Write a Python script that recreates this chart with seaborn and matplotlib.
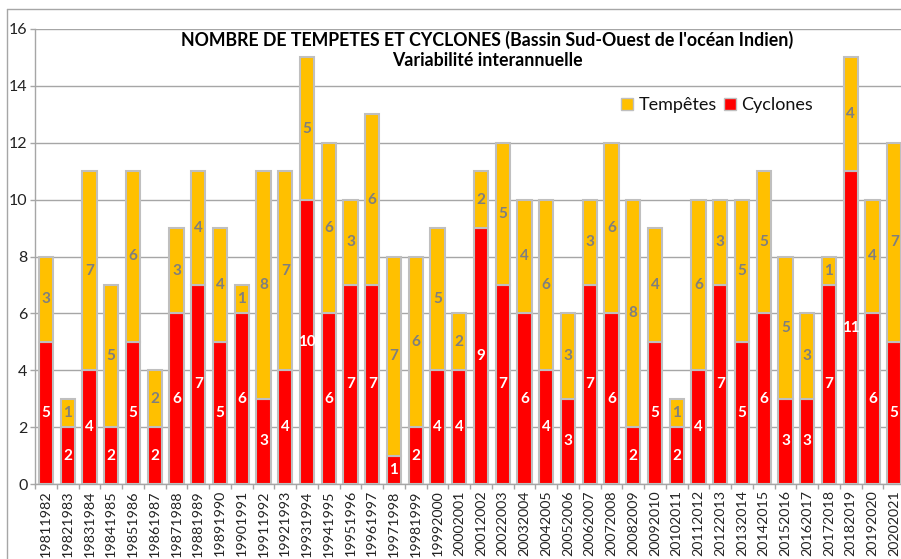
import matplotlib
matplotlib.use("Agg")
import matplotlib.pyplot as plt
import seaborn as sns
import pandas as pd
from matplotlib.patches import Patch
from matplotlib.lines import Line2D

seasons = ["19811982", "19821983", "19831984", "19841985", "19851986", "19861987",
           "19871988", "19881989", "19891990", "19901991", "19911992", "19921993",
           "19931994", "19941995", "19951996", "19961997", "19971998", "19981999",
           "19992000", "20002001", "20012002", "20022003", "20032004", "20042005",
           "20052006", "20062007", "20072008", "20082009", "20092010", "20102011",
           "20112012", "20122013", "20132014", "20142015", "20152016", "20162017",
           "20172018", "20182019", "20192020", "20202021"]
cyclones = [5, 2, 4, 2, 5, 2, 6, 7, 5, 6, 3, 4, 10, 6, 7, 7, 1, 2, 4, 4,
            9, 7, 6, 4, 3, 7, 6, 2, 5, 2, 4, 7, 5, 6, 3, 3, 7, 11, 6, 5]
tempetes = [3, 1, 7, 5, 6, 2, 3, 4, 4, 1, 8, 7, 5, 6, 3, 6, 7, 6, 5, 2,
            2, 5, 4, 6, 3, 3, 6, 8, 4, 1, 6, 3, 5, 5, 5, 3, 1, 4, 4, 7]
title = "NOMBRE DE TEMPETES ET CYCLONES (Bassin Sud-Ouest de l'océan Indien)\nVariabilité interannuelle"
yticks = [0, 2, 4, 6, 8, 10, 12, 14, 16]

df = pd.DataFrame({"saison": seasons, "Cyclones": cyclones, "Tempêtes": tempetes})

sns.set_theme(style="white")
plt.rcParams["font.family"] = ["Lato", "DejaVu Sans"]

W, H = 901, 559
fig = plt.figure(figsize=(W / 100, H / 100), dpi=100)
ax_left, ax_right, ax_top, ax_bot = 35.1, 905.1, 29, 484
ax = fig.add_axes([ax_left / W, 1 - ax_bot / H, (ax_right - ax_left) / W, (ax_bot - ax_top) / H])

RED = "#FF0000"
YEL = "#FFC000"
EDGE = "#BFBFBF"

sns.barplot(data=df, x="saison", y="Cyclones", color=RED, saturation=1, width=0.66,
            edgecolor=EDGE, linewidth=1.5, ax=ax, zorder=3)
sns.barplot(data=df, x="saison", y="Tempêtes", color=YEL, saturation=1, width=0.66,
            bottom=df["Cyclones"], edgecolor=EDGE, linewidth=1.5, ax=ax, zorder=3)

cont_c, cont_t = ax.containers[0], ax.containers[1]
ax.bar_label(cont_c, labels=[str(v) for v in cyclones], label_type="center",
             color="white", fontweight="bold", fontsize=11, zorder=4)
ax.bar_label(cont_t, labels=[str(v) for v in tempetes], label_type="center",
             color="#7F7F7F", fontweight="bold", fontsize=11, zorder=4)

ax.set_xlim(-0.5, len(seasons) - 0.5)
ax.set_ylim(0, 16)
ax.set_yticks(yticks)
ax.set_yticklabels([str(v) for v in yticks], fontsize=11.5, color="#222222")
ax.set_xticks(range(len(seasons)))
ax.set_xticklabels(seasons, rotation=90, fontsize=10.3, color="#222222")
ax.set_xlabel("")
ax.set_ylabel("")
ax.set_xticks([i - 0.5 for i in range(len(seasons) + 1)], minor=True)
ax.tick_params(axis="x", which="major", length=0, pad=4.5)
ax.tick_params(axis="x", which="minor", length=3.5, color="#A6A6A6", width=1, bottom=True)
ax.tick_params(axis="y", length=3.5, color="#A6A6A6", width=1, left=True, pad=2)

ax.yaxis.grid(True, color="#A6A6A6", linewidth=1)
ax.set_axisbelow(True)
for s in ["top", "right"]:
    ax.spines[s].set_visible(False)
for s in ["left", "bottom"]:
    ax.spines[s].set_color("#A6A6A6")
    ax.spines[s].set_linewidth(1)

fig.text(487 / W, 1 - 31 / H, title, ha="center", va="top", fontsize=12.8,
         fontweight="bold", color="black", linespacing=1.22)

handles = [Patch(facecolor=YEL, edgecolor=EDGE, label="Tempêtes"),
           Patch(facecolor=RED, edgecolor=EDGE, label="Cyclones")]
fig.legend(handles=handles, loc="center", bbox_to_anchor=(717 / W, 1 - 105 / H), ncol=2,
           frameon=False, fontsize=13, handlelength=0.65, handleheight=0.65,
           handletextpad=0.3, columnspacing=0.4, labelcolor="#111111",
           borderpad=0, borderaxespad=0)

fig.add_artist(Line2D([7 / W, 7 / W], [0, 1 - 9 / H], color="#A6A6A6", linewidth=1,
                      transform=fig.transFigure))
fig.add_artist(Line2D([7 / W, 1], [1 - 9 / H, 1 - 9 / H], color="#A6A6A6", linewidth=1,
                      transform=fig.transFigure))

fig.savefig("out.png", dpi=100)
